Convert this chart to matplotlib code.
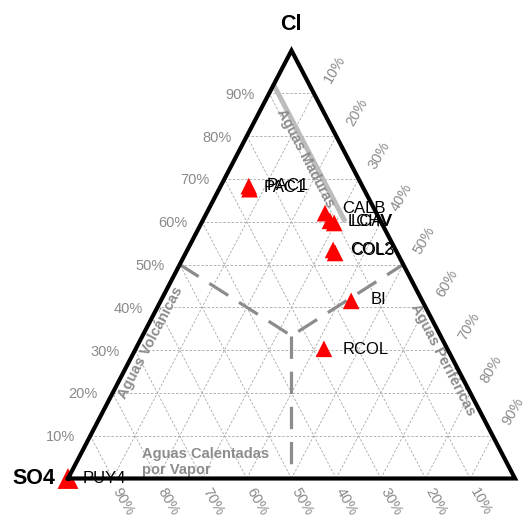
import numpy as np
import matplotlib
matplotlib.use("Agg")
import matplotlib.pyplot as plt

plt.rcParams['font.family'] = ['Liberation Sans', 'DejaVu Sans']

# ---- data (ternary percentages: Cl, SO4, HCO3) ----
samples = ['PUY4', 'PAC1', 'PAC1', 'CALB', 'LCHV', 'LCAV', 'COL2', 'COL3', 'BI', 'RCOL']
cl      = [0.0, 68.3, 67.6, 62.0, 60.2, 59.7, 53.4, 52.7, 41.5, 30.3]
hco3    = [0.0, 6.3, 6.8, 26.5, 28.5, 29.7, 32.6, 33.4, 42.6, 42.1]
so4     = [100.0, 25.4, 25.6, 11.5, 11.3, 10.6, 14.0, 13.9, 15.9, 27.6]

tick_pcts = [10, 20, 30, 40, 50, 60, 70, 80, 90]
vertex_labels = ['Cl', 'SO4']

# "Aguas Maduras" line: constant SO4, from HCO3 0 to 32 %
maduras_so4 = [8, 8]
maduras_hco3 = [0, 32]
maduras_cl = [92, 60]

# field boundaries (Cl, HCO3) percentages
field_cl = [50, 100/3, 50]
field_hco3 = [0, 100/3, 50]
field_v_cl = [100/3, 0]
field_v_hco3 = [100/3, 50]

# label pixel offsets (style)
label_off = {0: (15, 0), 1: (18, 1), 2: (14.5, 2), 3: (17, 5), 4: (18, -1),
             5: (16, 1), 6: (17, 0), 7: (16, 2), 8: (19, 1), 9: (19, -1)}


def tern(c, h):
    c = np.asarray(c, float) / 100.0
    h = np.asarray(h, float) / 100.0
    return h + c / 2.0, c


W, H = 524, 522
fig = plt.figure(figsize=(W / 100, H / 100), dpi=100)
ax = fig.add_axes([0, 0, 1, 1])
X0, XW, Y0, YH = 68.0, 447.0, 478.5, 428.0
ax.set_xlim((0 - X0) / XW, (W - X0) / XW)
ax.set_ylim((Y0 - H) / YH, Y0 / YH)
ax.axis('off')


def P(Xp, Yp):
    return (Xp - X0) / XW, (Y0 - Yp) / YH


grid_kw = dict(color='#a8a8a8', lw=0.6, ls=(0, (3, 2)), zorder=1)
for k in tick_pcts:
    f = k / 100.0
    ax.plot([f / 2, 1 - f / 2], [f, f], **grid_kw)
    ax.plot([f, f + (1 - f) / 2], [0, 1 - f], **grid_kw)
    ax.plot([1 - f, (1 - f) / 2], [0, 1 - f], **grid_kw)

# field dashed lines
fx, fy = tern(field_cl, field_hco3)
ax.plot(fx, fy, color='#8c8c8c', lw=2.3, dashes=(7, 4), zorder=2)
vx, vy = tern(field_v_cl, field_v_hco3)
ax.plot(vx, vy, color='#8c8c8c', lw=2.3, dashes=(7, 4), zorder=2)

# Maduras line
mx, my = tern(maduras_cl, maduras_hco3)
ax.plot(mx, my, color='#bcbcbc', lw=3.6, solid_capstyle='butt', zorder=2)

# samples
sx, sy = tern(cl, hco3)
sizes = [15 ** 2] + [12 ** 2] * (len(samples) - 1)
ax.scatter(sx, sy, marker='^', s=sizes, color='#ff0000', linewidths=0, zorder=3)
for i, name in enumerate(samples):
    dx, dy = label_off[i]
    ax.annotate(name, (sx[i], sy[i]), xytext=(dx, dy), textcoords='offset pixels',
                ha='left', va='center', fontsize=12, color='black', zorder=4)

# boundary triangle
ax.plot([0, 1, 0.5, 0], [0, 0, 1, 0], color='black', lw=3.0,
        solid_joinstyle='miter', zorder=5)

# tick labels
tcol = '#8a8a8a'
for k in tick_pcts:
    f = k / 100.0
    # left: Cl
    ax.annotate(f'{k}%', (f / 2, f), xytext=(-15, -1.5), textcoords='offset pixels',
                ha='right', va='center', fontsize=10.5, color=tcol)
    # bottom: SO4
    ax.annotate(f'{k}%', (1 - f, 0), xytext=(10.5, -23.5), textcoords='offset pixels',
                ha='center', va='center', fontsize=10.5, color=tcol, rotation=-60)
    # right: HCO3
    c = 1 - f
    ax.annotate(f'{k}%', (f + c / 2, c), xytext=(21, 24), textcoords='offset pixels',
                ha='center', va='center', fontsize=10.5, color=tcol, rotation=60)

# vertex labels
ax.text(*P(291, 24), vertex_labels[0], ha='center', va='center', fontsize=15.5,
        fontweight='bold', color='black')
ax.text(*P(34, 479), vertex_labels[1], ha='center', va='center', fontsize=15.5,
        fontweight='bold', color='black')

# edge angle in display space
p0 = ax.transData.transform((0, 0))
p1 = ax.transData.transform((0.5, 1))
ang = np.degrees(np.arctan2(p1[1] - p0[1], p1[0] - p0[0]))

rcol = '#8c8c8c'
ax.text(*P(151, 343), 'Aguas Volcánicas', rotation=ang, ha='center', va='center',
        fontsize=10.5, fontweight='bold', color=rcol, rotation_mode='anchor')
ax.text(*P(443, 360), 'Aguas Periféricas', rotation=-ang, ha='center', va='center',
        fontsize=10.5, fontweight='bold', color=rcol, rotation_mode='anchor')
ax.text(*P(306, 158), 'Aguas Maduras', rotation=-ang, ha='center', va='center',
        fontsize=10.5, fontweight='bold', color=rcol, rotation_mode='anchor')
ax.text(*P(142, 462), 'Aguas Calentadas\npor Vapor', ha='left', va='center',
        fontsize=10.5, fontweight='bold', color=rcol, linespacing=1.15)

fig.savefig('out.png', dpi=100)
